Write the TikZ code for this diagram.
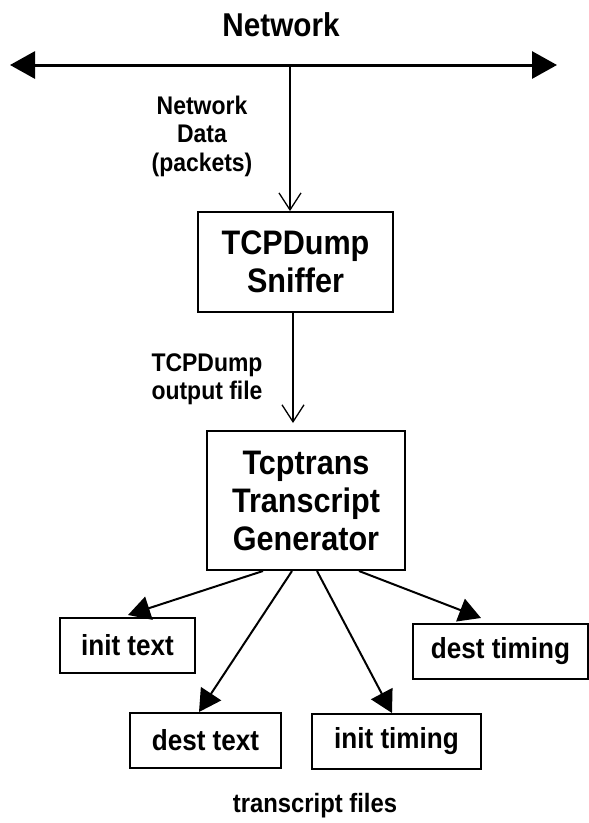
\documentclass[tikz,border=0pt]{standalone}
\usepackage{fontspec}
\setmainfont[FakeStretch=0.9]{Liberation Sans}
\usetikzlibrary{arrows.meta}
\tikzset{
  box/.style={draw, line width=1.8pt, rectangle, inner sep=0pt, align=center, font=\bfseries},
  bigtxt/.style={font=\bfseries\fontsize{34}{38}\selectfont},
  smalltxt/.style={font=\bfseries\fontsize{29}{30}\selectfont},
  lbl/.style={align=center, inner sep=0pt, font=\bfseries\fontsize{25.5}{28.5}\selectfont},
  openarrow/.style={line width=1.3pt, -{Straight Barb[length=17pt,width=22pt,line width=1.3pt]}},
  fillarrow/.style={line width=2pt, -{Triangle[length=22pt,width=24pt]}},
  netline/.style={line width=3pt, {Triangle[length=25pt,width=27pt]}-{Triangle[length=25pt,width=27pt]}}
}
\begin{document}
\begin{tikzpicture}[x=1pt,y=-1pt]
\useasboundingbox (0,0) rectangle (589,823);
% title
\node[inner sep=0pt, font=\bfseries\fontsize{33}{36}\selectfont] (title) at (281,25) {Network};
% network line
\coordinate (nl) at (10,65);
\coordinate (nr) at (557,65);
\draw[netline] (nl) -- (nr);
\coordinate (n1) at (290,65);
% boxes
\node[box, bigtxt, minimum width=195pt, minimum height=100pt] (sniffer) at (295.5,262) {TCPDump\\Sniffer};
\node[box, bigtxt, minimum width=198pt, minimum height=139pt] (gen) at (306,500.5) {Tcptrans\\Transcript\\Generator};
\node[box, smalltxt, minimum width=135pt, minimum height=55pt] (inittext) at (127.5,645.5) {init text};
\node[box, smalltxt, minimum width=151pt, minimum height=55pt] (desttext) at (205.5,740.5) {dest text};
\node[box, smalltxt, minimum width=169pt, minimum height=55pt] (inittiming) at (396.5,741.5) {init timing};
\node[box, smalltxt, minimum width=175pt, minimum height=55pt] (desttiming) at (500.5,651.5) {dest timing};
% labels
\node[lbl] (netdata) at (202,136) {Network\\Data\\(packets)};
\node[lbl] (dumpout) at (207,379) {TCPDump\\output file};
\node[inner sep=0pt, font=\bfseries\fontsize{26.5}{28}\selectfont] (files) at (315,806) {transcript files};
% vertical arrows
\draw[openarrow] (n1) -- (n1 |- sniffer.north);
\coordinate (a2s) at (293,312);
\coordinate (a2e) at (293,423);
\draw[openarrow] (a2s) -- (a2e);
% fan-out arrows
\coordinate (g1) at (263,571);
\coordinate (g2) at (292,571);
\coordinate (g3) at (317,571);
\coordinate (g4) at (359,571);
\coordinate (t1) at (128,615);
\coordinate (t2) at (199,712);
\coordinate (t3) at (392,713);
\coordinate (t4) at (481,618);
\draw[fillarrow] (g1) -- (t1);
\draw[fillarrow] (g2) -- (t2);
\draw[fillarrow] (g3) -- (t3);
\draw[fillarrow] (g4) -- (t4);
\end{tikzpicture}
\end{document}
